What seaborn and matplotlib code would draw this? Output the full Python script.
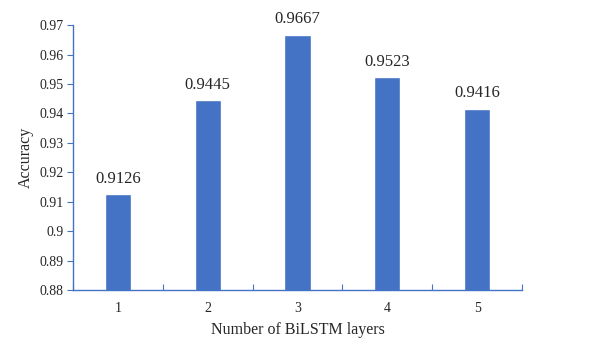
import numpy as np
import pandas as pd
import seaborn as sns
import matplotlib
matplotlib.use('Agg')
import matplotlib.pyplot as plt
from matplotlib.ticker import FixedLocator

layers = ['1', '2', '3', '4', '5']
accuracy = [0.9126, 0.9445, 0.9667, 0.9523, 0.9416]
y_ticks = [0.88, 0.89, 0.9, 0.91, 0.92, 0.93, 0.94, 0.95, 0.96, 0.97]
y_labels = ['0.88', '0.89', '0.9', '0.91', '0.92', '0.93', '0.94', '0.95', '0.96', '0.97']

BLUE = '#4472C4'

sns.set_style('white')
plt.rcParams['font.family'] = ['Liberation Serif', 'DejaVu Serif']

df = pd.DataFrame({'layers': layers, 'accuracy': accuracy})

fig = plt.figure(figsize=(6.01, 3.44), dpi=100)
ax = fig.add_axes([0.1215, 0.157, 0.747, 0.770])
sns.barplot(data=df, x='layers', y='accuracy', color=BLUE, width=0.29,
            saturation=1, ax=ax)

ax.set_ylim(0.88, 0.97)
ax.set_xlim(-0.5, len(layers) - 0.5)
ax.set_yticks(y_ticks)
ax.set_yticklabels(y_labels, fontsize=10)

# bar value labels
for i, v in enumerate(accuracy):
    ax.text(i, v + 0.0025, '{:.4f}'.format(v), ha='center', va='bottom', fontsize=12)

# category boundary ticks like excel
ax.xaxis.set_minor_locator(FixedLocator(np.arange(-0.5, len(layers), 1.0)))
ax.tick_params(axis='x', which='major', bottom=True, length=0, labelsize=10, pad=9)
ax.tick_params(axis='x', which='minor', bottom=True, direction='in', length=4, color=BLUE, width=0.8)
ax.tick_params(axis='y', which='major', left=True, direction='out', length=4, color=BLUE, width=0.8, pad=3)

for side in ['top', 'right']:
    ax.spines[side].set_visible(False)
for side in ['left', 'bottom']:
    ax.spines[side].set_color(BLUE)
    ax.spines[side].set_linewidth(1.0)

ax.set_xlabel('Number of BiLSTM layers', fontsize=11.5, labelpad=5)
ax.set_ylabel('Accuracy', fontsize=11.5, labelpad=4)

plt.savefig('out.png', dpi=100)
plt.close()
